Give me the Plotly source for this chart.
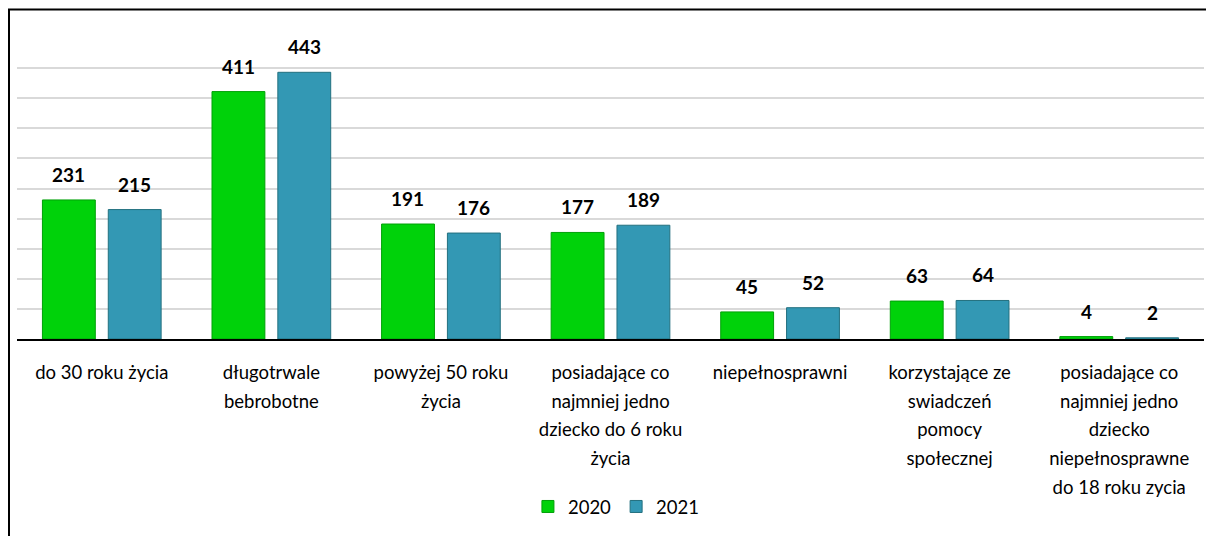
import plotly.graph_objects as go

categories = [
    "do 30 roku życia",
    "długotrwale<br>bebrobotne",
    "powyżej 50 roku<br>życia",
    "posiadające co<br>najmniej jedno<br>dziecko do 6 roku<br>życia",
    "niepełnosprawni",
    "korzystające ze<br>swiadczeń<br>pomocy<br>społecznej",
    "posiadające co<br>najmniej jedno<br>dziecko<br>niepełnosprawne<br>do 18 roku zycia",
]
values_2020 = [231, 411, 191, 177, 45, 63, 4]
values_2021 = [215, 443, 176, 189, 52, 64, 2]
series_names = ["2020", "2021"]

FONT = "Lato, Calibri, Carlito, sans-serif"
GREEN = "#00D20A"
BLUE = "#3398B4"

cat_ids = list(range(len(categories)))
tick_text = [
    "<br>".join('<span style="font-size:18.5px">' + part + "</span>" for part in c.split("<br>"))
    for c in categories
]

fig = go.Figure()
fig.add_trace(go.Bar(
    x=cat_ids, y=values_2020, name=series_names[0],
    marker=dict(color=GREEN, line=dict(color="#00A008", width=1)),
))
fig.add_trace(go.Bar(
    x=cat_ids, y=values_2021, name=series_names[1],
    marker=dict(color=BLUE, line=dict(color="#23707F", width=1)),
))

annotations = []
for vals, shift in ((values_2020, -33), (values_2021, 33)):
    for i, v in zip(cat_ids, vals):
        annotations.append(dict(
            x=i, y=v, xref="x", yref="y", text=f"<b>{v}</b>",
            showarrow=False, xshift=shift, yshift=12, yanchor="bottom",
            font=dict(family=FONT, size=19, color="#000000"),
        ))

fig.update_layout(
    width=1206, height=536,
    margin=dict(l=17, r=2, t=38, b=197),
    paper_bgcolor="white", plot_bgcolor="white",
    barmode="group", bargap=0.2235, bargroupgap=0.197,
    font=dict(family=FONT, size=18, color="#000000"),
    showlegend=True,
    legend=dict(orientation="h", x=0.505, xanchor="center", y=-0.558, yanchor="middle",
                font=dict(family=FONT, size=18.5, color="#000000"),
                traceorder="normal"),
    annotations=annotations,
    shapes=[dict(type="rect", xref="paper", yref="paper",
                 x0=(9 - 17) / 1187, x1=1.2, y0=-1.5, y1=(339 - 9.5) / 301,
                 line=dict(color="black", width=2), fillcolor="rgba(0,0,0,0)", layer="above")],
)
fig.update_xaxes(
    tickmode="array", tickvals=cat_ids, ticktext=tick_text,
    range=[-0.5, len(categories) - 0.5],
    showline=True, linecolor="black", linewidth=1.5,
    ticks="", tickfont=dict(family=FONT, size=22, color="#000000"),
    ticklabelstandoff=12,
    showgrid=False, zeroline=False,
)
fig.update_yaxes(
    range=[0, 500], dtick=50, showticklabels=False,
    showgrid=True, gridcolor="#D9D9D9", gridwidth=1.5,
    zeroline=False, showline=False,
)

fig.write_html(
    "out.html",
    config={"displayModeBar": False},
    post_script="document.body.style.margin='0';document.body.style.padding='0';"
                "document.body.style.overflow='hidden';"
                "document.documentElement.style.overflow='hidden';",
)
